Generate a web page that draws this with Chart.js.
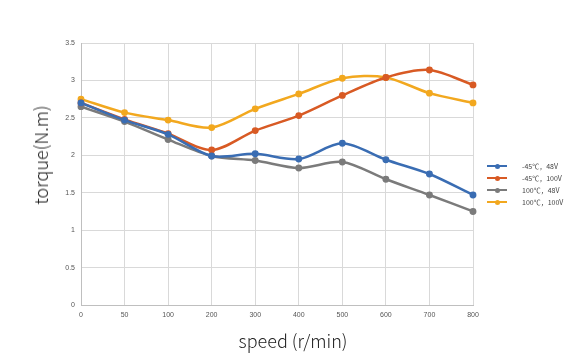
<!DOCTYPE html>
<html>
<head>
<meta charset="utf-8">
<script src="https://cdn.jsdelivr.net/npm/chart.js@4/dist/chart.umd.min.js"></script>
<style>
  body { margin: 0; background: #fff; }
  #wrap { position: relative; width: 581px; height: 359px; font-family: "Noto Sans CJK SC", "Noto Sans", sans-serif; }
  #ytitle { position: absolute; left: 40px; top: 155px; transform: translate(-50%, -50%) rotate(-90deg); font-size: 18px; font-weight: 300; color: #222; white-space: nowrap; }
  #xtitle { position: absolute; left: 293px; top: 340px; transform: translate(-50%, -50%); font-size: 18px; font-weight: 300; color: #222; white-space: nowrap; }
  #legend { position: absolute; left: 487px; top: 160px; font-size: 7px; color: #444; }
  .item { height: 12px; display: flex; align-items: center; }
  .sw { position: relative; width: 20px; height: 2px; margin-right: 15px; }
  .sw i { position: absolute; left: 7.5px; top: -1.5px; width: 5px; height: 5px; border-radius: 50%; }
</style>
</head>
<body>
<div id="wrap">
  <canvas id="myChart" width="581" height="359"></canvas>
  <div id="ytitle">torque(N.m)</div>
  <div id="xtitle">speed (r/min)</div>
  <div id="legend"></div>
</div>
<script>
const speeds = ['0', '50', '100', '200', '300', '400', '500', '600', '700', '800'];
const seriesNames = ['-45℃，48V', '-45℃，100V', '100℃，48V', '100℃，100V'];
const cold48 = [2.70, 2.47, 2.28, 1.99, 2.02, 1.95, 2.16, 1.94, 1.75, 1.47];
const cold100 = [2.70, 2.48, 2.29, 2.07, 2.33, 2.53, 2.80, 3.04, 3.14, 2.94];
const hot48 = [2.65, 2.45, 2.21, 1.99, 1.93, 1.83, 1.91, 1.68, 1.47, 1.25];
const hot100 = [2.75, 2.57, 2.47, 2.37, 2.62, 2.82, 3.03, 3.04, 2.83, 2.70];
const colors = ['#3a6db3', '#d85a24', '#7b7b7b', '#f2a81f'];

const values = [cold48, cold100, hot48, hot100];

const datasets = values.map((v, i) => ({
    label: seriesNames[i],
    data: v,
    borderColor: colors[i],
    backgroundColor: colors[i],
    borderWidth: 2.5,
    pointRadius: 2.2,
    pointHoverRadius: 2.2,
    tension: 0.3,
    fill: false
}));

new Chart('myChart', {
    type: 'line',
    data: { labels: speeds, datasets: datasets },
    options: {
        responsive: false,
        animation: false,
        layout: { padding: { left: 0, top: 43, right: 108, bottom: 0 } },
        plugins: { legend: { display: false }, tooltip: { enabled: false } },
        scales: {
            x: {
                offset: false,
                grid: { color: '#d9d9d9', offset: false, drawTicks: false },
                border: { color: '#bfbfbf' },
                ticks: { color: '#555', font: { size: 7 }, padding: 6, maxRotation: 0, autoSkip: false },
                afterFit: s => { s.height = 54; }
            },
            y: {
                min: 0,
                max: 3.5,
                grid: { color: '#d9d9d9', drawTicks: false },
                border: { color: '#bfbfbf' },
                ticks: { stepSize: 0.5, color: '#555', font: { size: 7 }, padding: 6, callback: v => String(v) },
                afterFit: s => { s.width = 81; }
            }
        }
    }
});

let legend = document.getElementById('legend');
seriesNames.forEach((name, i) => {
    let row = document.createElement('div');
    row.className = 'item';
    row.innerHTML = '<span class="sw" style="background:' + colors[i] + '"><i style="background:' + colors[i] + '"></i></span>' + name;
    legend.appendChild(row);
});
</script>
</body>
</html>
